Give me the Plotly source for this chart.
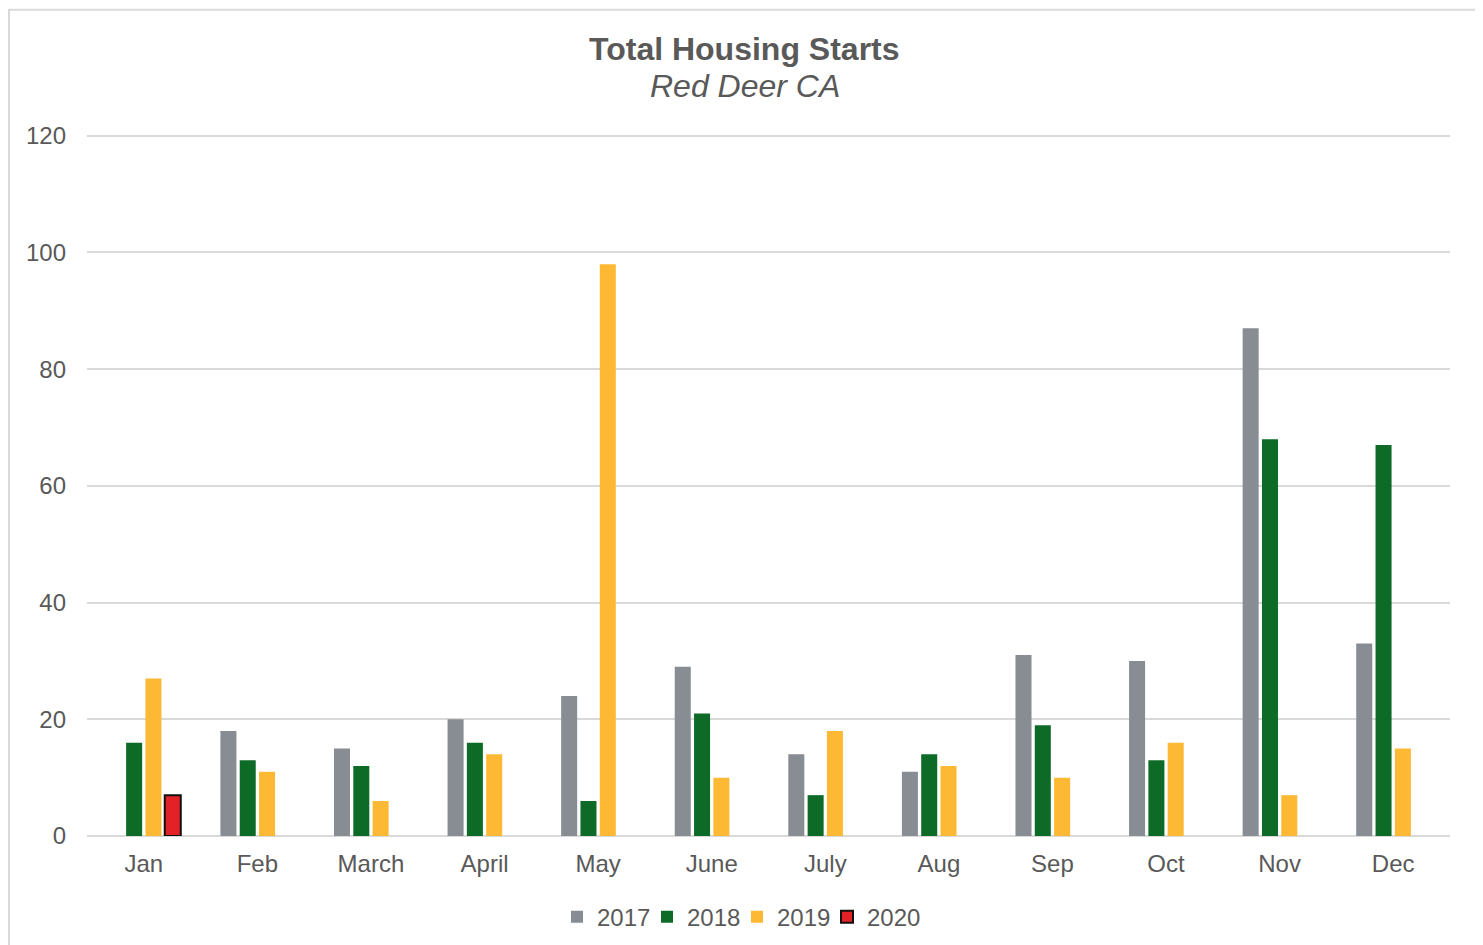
import plotly.graph_objects as go

months = ["Jan", "Feb", "March", "April", "May", "June", "July", "Aug", "Sep", "Oct", "Nov", "Dec"]
s2017 = [None, 18, 15, 20, 24, 29, 14, 11, 31, 30, 87, 33]
s2018 = [16, 13, 12, 16, 6, 21, 7, 14, 19, 13, 68, 67]
s2019 = [27, 11, 6, 14, 98, 10, 18, 12, 10, 16, 7, 15]
s2020 = [7, None, None, None, None, None, None, None, None, None, None, None]
y_ticks = [0, 20, 40, 60, 80, 100, 120]

OFF = 8  # page body margin
W, H = 1483 - OFF, 945 - OFF
YMAX = 120.3
L, R, B = 87 - OFF, 1450 - OFF, 836 - OFF
T = B - (700 / 120) * YMAX
pw, ph = R - L, B - T

def px(x):
    return (x - OFF - L) / pw

def py(y):
    return (B - (y - OFF)) / ph

FONT = "Liberation Sans, Arial, sans-serif"
TXT = "#595959"
GRID = "#D9D9D9"

fig = go.Figure()
fig.add_trace(go.Bar(name="2017", x=months, y=s2017, marker=dict(color="#878D93", line=dict(width=0))))
fig.add_trace(go.Bar(name="2018", x=months, y=s2018, marker=dict(color="#0E6B27", line=dict(width=0))))
fig.add_trace(go.Bar(name="2019", x=months, y=s2019, marker=dict(color="#FDB933", line=dict(width=0))))
fig.add_trace(go.Bar(name="2020", x=months, y=s2020, marker=dict(color="#E32227", line=dict(color="#111111", width=2))))
# invisible spacer legend entry so the last legend label is not clipped
fig.add_trace(go.Scatter(name=" ", x=[months[0]], y=[None], mode="markers",
                         marker=dict(color="rgba(0,0,0,0)", size=1), hoverinfo="skip"))

fig.update_layout(
    width=W, height=H,
    margin=dict(l=L, r=W - R, t=T, b=H - B, autoexpand=False),
    paper_bgcolor="white", plot_bgcolor="white",
    barmode="group", bargap=0.32, bargroupgap=0.17,
    font=dict(family=FONT, color=TXT, size=24),
    showlegend=True,
    legend=dict(orientation="h", x=px(557), xanchor="left", y=py(917), yanchor="middle",
                font=dict(size=24, color=TXT), itemwidth=30, traceorder="normal",
                entrywidth=45, entrywidthmode="pixels",
                bgcolor="rgba(0,0,0,0)"),
    xaxis=dict(range=[-0.5, len(months) - 0.5], showgrid=False, showline=False, ticks="",
               tickfont=dict(size=24, color=TXT), ticklabelstandoff=11, fixedrange=True),
    yaxis=dict(range=[0, YMAX], tickvals=y_ticks, showgrid=True, gridcolor=GRID, gridwidth=1.5,
               zeroline=True, zerolinecolor=GRID, zerolinewidth=1.5, showline=False, ticks="",
               tickfont=dict(size=24, color=TXT), ticklabelstandoff=20),
    annotations=[
        dict(text="<b>Total Housing Starts</b>", x=px(744), y=py(49), xref="paper", yref="paper",
             xanchor="center", yanchor="middle", showarrow=False, font=dict(size=32, color=TXT, family=FONT)),
        dict(text="<i>Red Deer CA</i>", x=px(745), y=py(86), xref="paper", yref="paper",
             xanchor="center", yanchor="middle", showarrow=False, font=dict(size=32, color=TXT, family=FONT)),
    ],
    shapes=[
        dict(type="rect", xref="paper", yref="paper", x0=px(9), x1=px(1480), y0=py(10), y1=py(1000),
             line=dict(color=GRID, width=2), fillcolor="rgba(0,0,0,0)", layer="below"),
    ],
)

fig.write_html("out.html")
